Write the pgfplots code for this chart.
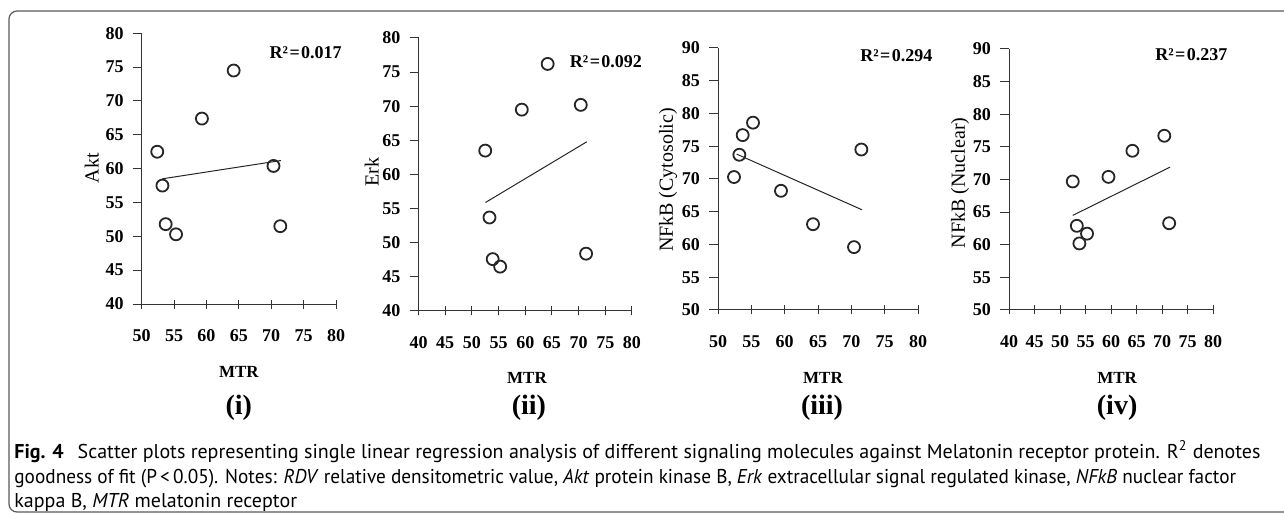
\documentclass[border=0pt]{standalone}
\usepackage{pgfplots}
\pgfplotsset{compat=1.18}
\usepackage{fontspec}
\setmainfont{Liberation Serif}
\newfontfamily\capfont{PT Sans}

\pgfplotsset{
  panel/.style={
    scale only axis, clip=false,
    axis lines=left,
    axis line style={-, black!80, line width=0.5pt},
    tick style={black!80, line width=0.5pt},
    xtick align=center, ytick align=outside,
    major tick length=4.5pt,
    /pgf/number format/assume math mode=true,
    tick label style={font=\fontsize{9}{10}\selectfont\bfseries},
    xticklabel shift=7pt, yticklabel shift=1pt,
    xtick distance=5, ytick distance=5,
    ylabel style={font=\fontsize{10}{11}\selectfont, anchor=center},
    xlabel style={font=\fontsize{8.5}{10}\selectfont\bfseries, anchor=center},
  },
  dots/.style={only marks, mark=o, mark size=3pt,
    mark options={line width=0.9pt, draw=black!85}},
  fit/.style={black!85, line width=0.5pt, no marks},
}
\tikzset{
  rsq/.style={anchor=west, inner sep=0pt, font=\fontsize{9}{10}\selectfont\bfseries},
  tag/.style={font=\fontsize{14}{16}\selectfont\bfseries},
}
\newcommand{\rsq}[1]{R²\hspace{0.08em}=\hspace{0.08em}#1}

\begin{document}
\begin{tikzpicture}
\useasboundingbox (0,0) rectangle (642pt,257pt);
\draw[black!65, line width=0.6pt, rounded corners=4pt] (650pt,251.5pt) -- (4.5pt,251.5pt) -- (4.5pt,1pt) -- (650pt,1pt);

% (i) Akt
\begin{axis}[panel, at={(70.85pt,105pt)}, anchor=south west,
  width=97.15pt, height=135.35pt,
  xmin=50, xmax=80, ymin=40, ymax=80,
  ylabel={Akt}, ylabel style={at={(axis description cs:-0.257,0.502)}},
  xlabel={MTR}, xlabel style={at={(axis description cs:0.5,-0.251)}}]
\addplot[dots] coordinates {
  (52.4,62.5) (53.2,57.5) (53.7,51.8) (55.3,50.3)
  (59.3,67.4) (64.2,74.5) (70.35,60.4) (71.4,51.5)};
\addplot[fit] coordinates {(53.2,58.5) (71.5,61.2)};
\node[rsq] at (axis cs:69.7,77.1) {\rsq{0.017}};
\node[tag] at (axis description cs:0.5,-0.384) {(i)};
\end{axis}

% (ii) Erk
\begin{axis}[panel, at={(209.25pt,101.5pt)}, anchor=south west,
  width=106.75pt, height=136.5pt,
  xmin=40, xmax=80, ymin=40, ymax=80,
  ylabel={Erk}, ylabel style={at={(axis description cs:-0.219,0.509)}},
  xlabel={MTR}, xlabel style={at={(axis description cs:0.508,-0.245)}}]
\addplot[dots] coordinates {
  (52.5,63.5) (53.3,53.7) (53.9,47.6) (55.3,46.5)
  (59.35,69.5) (64.2,76.2) (70.4,70.2) (71.4,48.4)};
\addplot[fit] coordinates {(52.55,55.9) (71.55,64.8)};
\node[rsq] at (axis cs:68.3,76.5) {\rsq{0.092}};
\node[tag] at (axis description cs:0.517,-0.355) {(ii)};
\end{axis}

% (iii) NFkB cytosolic
\begin{axis}[panel, at={(359pt,102pt)}, anchor=south west,
  width=100pt, height=131pt,
  xmin=50, xmax=80, ymin=50, ymax=90,
  ylabel={NFkB (Cytosolic)}, ylabel style={at={(axis description cs:-0.25,0.496)}},
  xlabel={MTR}, xlabel style={at={(axis description cs:0.525,-0.26)}}]
\addplot[dots] coordinates {
  (52.4,70.3) (53.2,73.7) (53.7,76.7) (55.25,78.6)
  (59.45,68.2) (64.25,63.1) (70.4,59.6) (71.5,74.5)};
\addplot[fit] coordinates {(52.8,73.8) (71.6,65.3)};
\node[rsq] at (axis cs:71.3,88.9) {\rsq{0.294}};
\node[tag] at (axis description cs:0.52,-0.374) {(iii)};
\end{axis}

% (iv) NFkB nuclear
\begin{axis}[panel, at={(504.5pt,102pt)}, anchor=south west,
  width=102pt, height=130.5pt,
  xmin=40, xmax=80, ymin=50, ymax=90,
  ylabel={NFkB (Nuclear)}, ylabel style={at={(axis description cs:-0.24,0.487)}},
  xlabel={MTR}, xlabel style={at={(axis description cs:0.53,-0.26)}}]
\addplot[dots] coordinates {
  (52.5,69.7) (53.3,62.9) (53.8,60.2) (55.3,61.7)
  (59.5,70.4) (64.2,74.4) (70.45,76.7) (71.4,63.3)};
\addplot[fit] coordinates {(52.5,64.5) (71.6,71.9)};
\node[rsq] at (axis cs:68.6,89.1) {\rsq{0.237}};
\node[tag] at (axis description cs:0.53,-0.375) {(iv)};
\end{axis}

% caption
\begin{scope}[every node/.style={anchor=base west, inner sep=0pt, font=\capfont\fontsize{10}{12}\selectfont}]
\node at (7pt,28pt) {\textbf{Fig. 4}\hspace{0.7em}Scatter plots representing single linear regression analysis of different signaling molecules against Melatonin receptor protein. R\textsuperscript{2} denotes};
\node at (7pt,15.5pt) {\scalebox{0.963}[1]{goodness of fit (P\,<\,0.05). Notes: \textit{RDV} relative densitometric value, \textit{Akt} protein kinase B, \textit{Erk} extracellular signal regulated kinase, \textit{NFkB} nuclear factor}};
\node at (7pt,3.5pt) {kappa B, \textit{MTR} melatonin receptor};
\end{scope}
\end{tikzpicture}
\end{document}
